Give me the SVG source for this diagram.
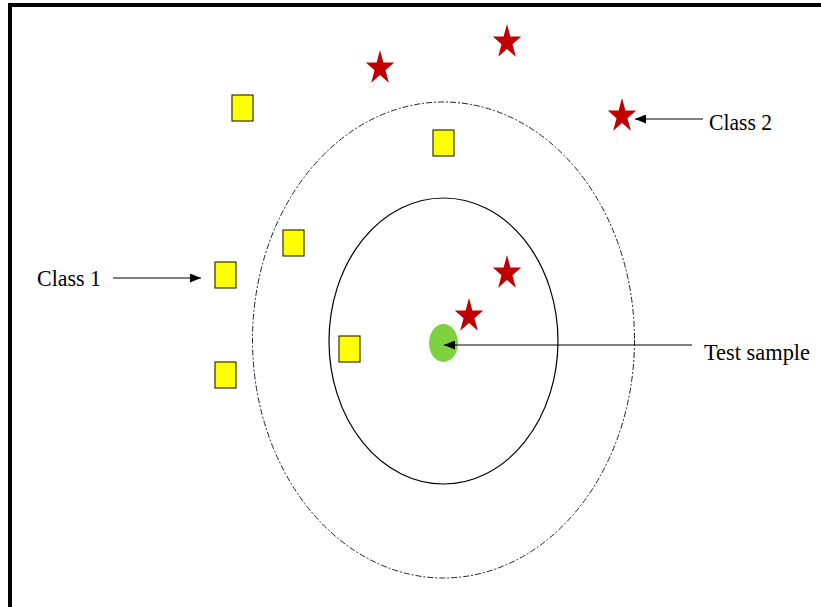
<svg xmlns="http://www.w3.org/2000/svg" xmlns:xlink="http://www.w3.org/1999/xlink" width="821" height="607" viewBox="0 0 821 607">
  <style>
    .frame { fill: #000000; }
    .sq { fill: #ffff00; stroke: #333300; stroke-width: 1.2; }
    .star { fill: #c00000; }
    .ring { fill: none; stroke: #000000; stroke-width: 1.2; }
    .ring-outer { fill: none; stroke: #222222; stroke-width: 1; stroke-dasharray: 6 2 2 2; }
    .sample { fill: #7ed13f; }
    .conn { stroke: #000000; stroke-width: 1.2; fill: none; marker-end: url(#head); }
    .lbl { font-family: "Liberation Serif", "Times New Roman", serif; font-size: 24px; fill: #000000; }
  </style>
  <defs>
    <marker id="head" viewBox="0 0 11 9" refX="11" refY="4.5" markerWidth="11" markerHeight="9" markerUnits="userSpaceOnUse" orient="auto">
      <path d="M0,0 L11,4.5 L0,9 Z" fill="#000000"/>
    </marker>
    <path id="starShape" d="M0,-18 L3.4,-5.56 L14.2,-5.56 L5.5,2.2 L8.8,14.8 L0,7 L-8.8,14.8 L-5.5,2.2 L-14.2,-5.56 L-3.4,-5.56 Z"/>
  </defs>

  <rect width="821" height="607" fill="#ffffff"/>

  <!-- heavy frame along the top and left edges -->
  <g id="frame">
    <rect class="frame" x="8" y="3" width="813" height="4"/>
    <rect class="frame" x="8" y="3" width="4" height="604"/>
  </g>

  <!-- neighbourhood rings around the test point -->
  <g id="ring-outer">
    <ellipse class="ring-outer" cx="443.5" cy="340" rx="191" ry="238"/>
  </g>
  <g id="ring-inner">
    <ellipse class="ring" cx="443.5" cy="341" rx="114.5" ry="143"/>
  </g>

  <!-- class 1 samples -->
  <g id="class1-a"><rect class="sq" x="232" y="95" width="21" height="26"/></g>
  <g id="class1-b"><rect class="sq" x="433" y="130" width="21" height="26"/></g>
  <g id="class1-c"><rect class="sq" x="283" y="230" width="21" height="26"/></g>
  <g id="class1-d"><rect class="sq" x="215" y="262" width="21" height="26"/></g>
  <g id="class1-e"><rect class="sq" x="339" y="336" width="21" height="26"/></g>
  <g id="class1-f"><rect class="sq" x="215" y="362" width="21" height="26"/></g>

  <!-- class 2 samples -->
  <g id="class2-a"><use xlink:href="#starShape" class="star" transform="translate(380,68)"/></g>
  <g id="class2-b"><use xlink:href="#starShape" class="star" transform="translate(507,42)"/></g>
  <g id="class2-c"><use xlink:href="#starShape" class="star" transform="translate(622,116)"/></g>
  <g id="class2-d"><use xlink:href="#starShape" class="star" transform="translate(507,273)"/></g>
  <g id="class2-e"><use xlink:href="#starShape" class="star" transform="translate(469,316)"/></g>

  <!-- test point -->
  <g id="test-sample">
    <ellipse class="sample" cx="443.5" cy="343" rx="14.5" ry="19"/>
  </g>

  <!-- labels -->
  <g id="label-class1">
    <text class="lbl" x="37" y="286" textLength="64" lengthAdjust="spacingAndGlyphs">Class 1</text>
  </g>
  <g id="label-class2">
    <text class="lbl" x="709" y="130" textLength="63" lengthAdjust="spacingAndGlyphs">Class 2</text>
  </g>
  <g id="label-test">
    <text class="lbl" x="704" y="360" textLength="106" lengthAdjust="spacingAndGlyphs">Test sample</text>
  </g>

  <!-- pointers from labels -->
  <g id="connectors">
    <line class="conn" x1="113" y1="278" x2="201" y2="278"/>
    <line class="conn" x1="703" y1="119" x2="635" y2="119"/>
    <line class="conn" x1="692" y1="345" x2="444" y2="345"/>
  </g>
</svg>
